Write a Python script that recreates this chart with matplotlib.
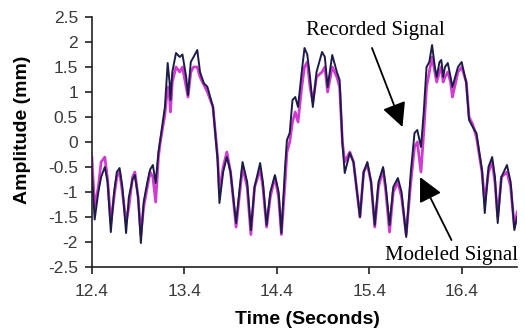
#!/usr/bin/env python
# -*- coding: utf-8 -*-

import matplotlib
matplotlib.use("Agg")
import matplotlib.pyplot as plt

# -----------------------------------------------------------------------------
# Data
# -----------------------------------------------------------------------------

time = [12.40, 12.43, 12.47, 12.50, 12.54, 12.57, 12.605, 12.64, 12.67, 12.70,
        12.73, 12.77, 12.80, 12.84, 12.865, 12.90, 12.93, 12.96, 13.00, 13.03,
        13.06, 13.09, 13.12, 13.14, 13.19, 13.22, 13.24, 13.25, 13.27, 13.31,
        13.35, 13.38, 13.42, 13.44, 13.47, 13.50, 13.54, 13.57, 13.61, 13.65,
        13.71, 13.76, 13.78, 13.82, 13.86, 13.90, 13.96, 14.00, 14.03, 14.08,
        14.12, 14.16, 14.22, 14.25, 14.29, 14.33, 14.38, 14.42, 14.45, 14.49,
        14.51, 14.54, 14.57, 14.60, 14.63, 14.67, 14.70, 14.73, 14.76, 14.79,
        14.83, 14.89, 14.92, 14.95, 15.00, 15.05, 15.08, 15.11, 15.135, 15.19,
        15.23, 15.30, 15.34, 15.38, 15.42, 15.46, 15.50, 15.55, 15.58, 15.62,
        15.66, 15.71, 15.75, 15.80, 15.85, 15.89, 15.92, 15.96, 15.99, 16.02,
        16.05, 16.08, 16.11, 16.13, 16.16, 16.18, 16.20, 16.22, 16.25, 16.28,
        16.30, 16.36, 16.40, 16.45, 16.48, 16.52, 16.56, 16.62, 16.65, 16.69,
        16.73, 16.76, 16.79, 16.83, 16.89, 16.93, 16.97, 17.00]

recorded = [-0.60, -1.55, -1.00, -0.70, -0.50, -0.80, -1.80, -1.00, -0.60, -0.52,
            -0.90, -1.82, -1.10, -0.75, -0.66, -1.10, -2.02, -1.20, -0.80, -0.55,
            -0.46, -0.82, -0.20, 0.05, 0.70, 1.58, 1.20, 0.84, 1.40, 1.78,
            1.70, 1.75, 1.30, 0.94, 1.60, 1.70, 1.84, 1.40, 1.18, 1.10,
            0.70, -0.36, -1.22, -0.60, -0.30, -0.60, -1.62, -0.90, -0.40, -0.80,
            -1.76, -0.90, -0.42, -0.80, -1.66, -1.00, -0.66, -1.00, -1.82, -0.50,
            0.04, 0.18, 0.84, 0.90, 0.70, 1.40, 1.88, 1.75, 1.30, 0.70,
            1.40, 1.80, 1.70, 1.10, 1.74, 1.40, 1.24, -0.02, -0.62, -0.22,
            -0.40, -1.50, -0.60, -0.40, -0.80, -1.66, -0.80, -0.50, -0.90, -1.66,
            -0.90, -0.72, -1.00, -1.90, -0.60, 0.18, 0.24, -0.10, 0.60, 1.50,
            1.60, 1.94, 1.50, 1.30, 1.60, 1.64, 1.30, 1.50, 1.58, 1.30,
            1.10, 1.50, 1.60, 1.18, 0.44, 0.30, 0.18, -0.56, -1.42, -0.50,
            -0.30, -0.70, -1.62, -0.70, -0.46, -0.80, -1.76, -1.50]

modeled = [-0.30, -1.30, -0.90, -0.40, -0.30, -0.75, -1.60, -1.10, -0.70, -0.60,
           -1.00, -1.60, -1.30, -0.70, -0.60, -1.10, -1.85, -1.30, -0.90, -0.60,
           -0.70, -1.20, -0.30, 0.00, 0.55, 1.10, 0.90, 0.60, 1.20, 1.50,
           1.40, 1.50, 1.10, 0.90, 1.40, 1.50, 1.50, 1.30, 1.15, 1.00,
           0.70, -0.30, -1.00, -0.50, -0.20, -0.60, -1.70, -1.00, -0.50, -0.90,
           -1.85, -0.90, -0.55, -0.90, -1.70, -1.10, -0.70, -1.10, -1.85, -0.80,
           -0.20, 0.00, 0.40, 0.60, 0.40, 1.10, 1.50, 1.60, 1.10, 0.80,
           1.30, 1.40, 1.50, 1.00, 1.50, 1.30, 1.10, 0.00, -0.40, -0.20,
           -0.40, -1.50, -0.60, -0.45, -0.80, -1.70, -0.90, -0.55, -1.00, -1.80,
           -1.00, -0.80, -1.10, -1.85, -0.80, -0.10, 0.00, -0.60, 0.20, 1.10,
           1.40, 1.70, 1.40, 1.20, 1.40, 1.50, 1.20, 1.30, 1.40, 1.20,
           0.90, 1.40, 1.50, 1.20, 0.50, 0.35, 0.10, -0.60, -1.20, -0.60,
           -0.40, -0.80, -1.50, -0.70, -0.60, -0.90, -1.70, -1.40]

xticks = [12.4, 13.4, 14.4, 15.4, 16.4]
xtickLabels = ["12.4", "13.4", "14.4", "15.4", "16.4"]
yticks = [2.5, 2, 1.5, 1, 0.5, 0, -0.5, -1, -1.5, -2, -2.5]
ytickLabels = ["2.5", "2", "1.5", "1", "0.5", "0", "-0.5", "-1", "-1.5", "-2", "-2.5"]

# -----------------------------------------------------------------------------
# Plot
# -----------------------------------------------------------------------------

fig = plt.figure(figsize = (5.25, 3.33), dpi = 100)
ax = fig.add_axes([0.175, 0.198, 0.81, 0.751])

ax.plot(time, modeled,  color = "#d03cd0", linewidth = 2.0)
ax.plot(time, recorded, color = "#1c1c48", linewidth = 1.4)

ax.set_xlim(12.4, 17.0)
ax.set_ylim(-2.5, 2.5)
ax.set_xticks(xticks)
ax.set_xticklabels(xtickLabels)
ax.set_yticks(yticks)
ax.set_yticklabels(ytickLabels)

for side in ["top", "right"]:
    ax.spines[side].set_visible(False)
for side in ["left", "bottom"]:
    ax.spines[side].set_color("#222222")
    ax.spines[side].set_linewidth(1.2)

ax.tick_params(direction = "out", length = 5, width = 1.2, colors = "#222222",
               labelsize = 12.5, labelcolor = "#3a3a3a")
ax.tick_params(axis = "x", pad = 7)
ax.tick_params(axis = "y", pad = 5)
for lab in ax.get_xticklabels() + ax.get_yticklabels():
    lab.set_fontfamily("Liberation Sans")

fig.text(0.585, 0.04, "Time (Seconds)", ha = "center", va = "center",
         fontsize = 14, fontweight = "bold", family = "Liberation Sans")
fig.text(0.043, 0.61, "Amplitude (mm)", ha = "center", va = "center",
         rotation = 90, fontsize = 14, fontweight = "bold", family = "Liberation Sans")

arrowKw = dict(arrowstyle = "-|>,head_length=1.4,head_width=0.7", mutation_scale = 10.5,
               color = "black", lw = 1.3, shrinkA = 0, shrinkB = 0)

ax.annotate("", xy = (15.76, 0.30), xytext = (15.43, 1.88),
            arrowprops = arrowKw, annotation_clip = False)
ax.text(15.47, 2.22, "Recorded Signal", ha = "center", va = "center",
        fontsize = 15, family = "Liberation Serif")

ax.annotate("", xy = (15.95, -0.70), xytext = (16.29, -1.96),
            arrowprops = arrowKw, annotation_clip = False)
ax.text(16.29, -2.26, "Modeled Signal", ha = "center", va = "center",
        fontsize = 15, family = "Liberation Serif")

fig.savefig("out.png", dpi = 100)
